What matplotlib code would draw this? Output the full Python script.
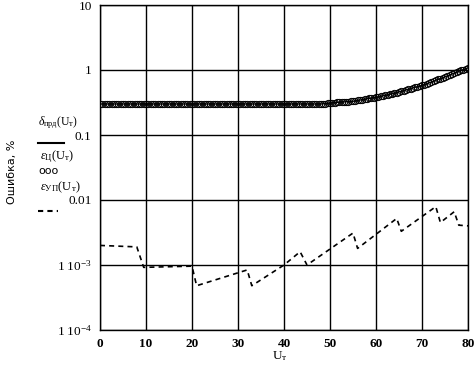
import numpy as np
import matplotlib
matplotlib.use("Agg")
import matplotlib.pyplot as plt

plt.rcParams['font.family'] = ['Liberation Serif', 'DejaVu Serif']
plt.rcParams['mathtext.fontset'] = 'custom'
plt.rcParams['mathtext.rm'] = 'Liberation Serif'
plt.rcParams['mathtext.it'] = 'Liberation Serif:italic'

# upper curves: delta_prd (line) and eps_C (circles), U_T = 0..80
u_up = [0, 10, 20, 30, 40, 45, 48, 50, 52, 55, 58, 60, 63, 65, 68, 70, 72, 75, 78, 80]
d_up = [0.30, 0.30, 0.30, 0.30, 0.30, 0.30, 0.30, 0.31, 0.32, 0.33, 0.36, 0.38,
        0.42, 0.46, 0.53, 0.58, 0.65, 0.78, 0.95, 1.08]

# lower curve: eps_UP (dashed)
u_low = [0, 8, 9.5, 20, 21, 32, 33, 40, 43.5, 45, 55, 56, 64.5, 65.5, 73, 74, 77, 78, 80]
e_low = [0.0020, 0.0019, 0.00092, 0.00096, 0.00048, 0.00084, 0.00048, 0.0010,
         0.0016, 0.00100, 0.0031, 0.0018, 0.0052, 0.0033, 0.0079, 0.0045,
         0.0066, 0.0041, 0.0040]

x_ticks = [0, 10, 20, 30, 40, 50, 60, 70, 80]
y_ticks = [1e-4, 1e-3, 0.01, 0.1, 1, 10]
y_labels = [r'$1\ 10^{-4}$', r'$1\ 10^{-3}$', '0.01', '0.1', '1', '10']

fig = plt.figure(figsize=(4.76, 3.72), dpi=100)
ax = fig.add_axes([100/476, 1-330/372, 368/476, 325/372])

uu = np.arange(0, 80.5, 0.5)
dd = np.interp(uu, u_up, d_up)
ax.plot(uu, dd, color='black', lw=1.0)
ax.plot(uu, dd, 'o', mfc='none', mec='black', ms=4.5, mew=0.7)
ax.plot(u_low, e_low, color='black', lw=1.2, dashes=(3, 2.5))

ax.set_yscale('log')
ax.set_xlim(0, 80)
ax.set_ylim(1e-4, 10)
ax.set_xticks(x_ticks)
ax.set_yticks(y_ticks)
ax.set_yticklabels(y_labels)
ax.minorticks_off()
ax.tick_params(length=0, labelsize=9.5, pad=6)
for lab in ax.get_xticklabels():
    lab.set_fontweight('bold')
ax.grid(True, color='black', lw=1.0)
for s in ax.spines.values():
    s.set_linewidth(1.0)

fig.text(280/476, 1-356/372, r'$\mathrm{U}_{\mathrm{т}}$', ha='center', va='center', fontsize=9.5)

# legend block on the left
fig.text(12/476, 1-172/372, 'Ошибка, %', rotation=90, ha='center', va='center',
         fontsize=8, family=['DejaVu Sans'])
fig.text(38/476, 1-123/372, r'$\delta_{\mathrm{прд}}(\mathrm{U}_{\mathrm{т}})$', fontsize=8.5, va='center')
fig.lines.append(plt.Line2D([38/476, 64/476], [1-143/372, 1-143/372], color='black', lw=1.5,
                            transform=fig.transFigure))
fig.text(40/476, 1-157/372, r'$\varepsilon_{\mathrm{Ц}}(\mathrm{U}_{\mathrm{т}})$', fontsize=9, va='center')
fig.text(38/476, 1-171/372, 'ооо', fontsize=8, va='center', family=['DejaVu Sans'])
fig.text(40/476, 1-187/372, r'$\varepsilon_{\mathrm{УП}}(\mathrm{U}_{\mathrm{т}})$', fontsize=9, va='center')
fig.lines.append(plt.Line2D([38/476, 58/476], [1-211/372, 1-211/372], color='black', lw=1.5,
                            dashes=(2.5, 2), transform=fig.transFigure))

fig.savefig('out.png', dpi=100)
